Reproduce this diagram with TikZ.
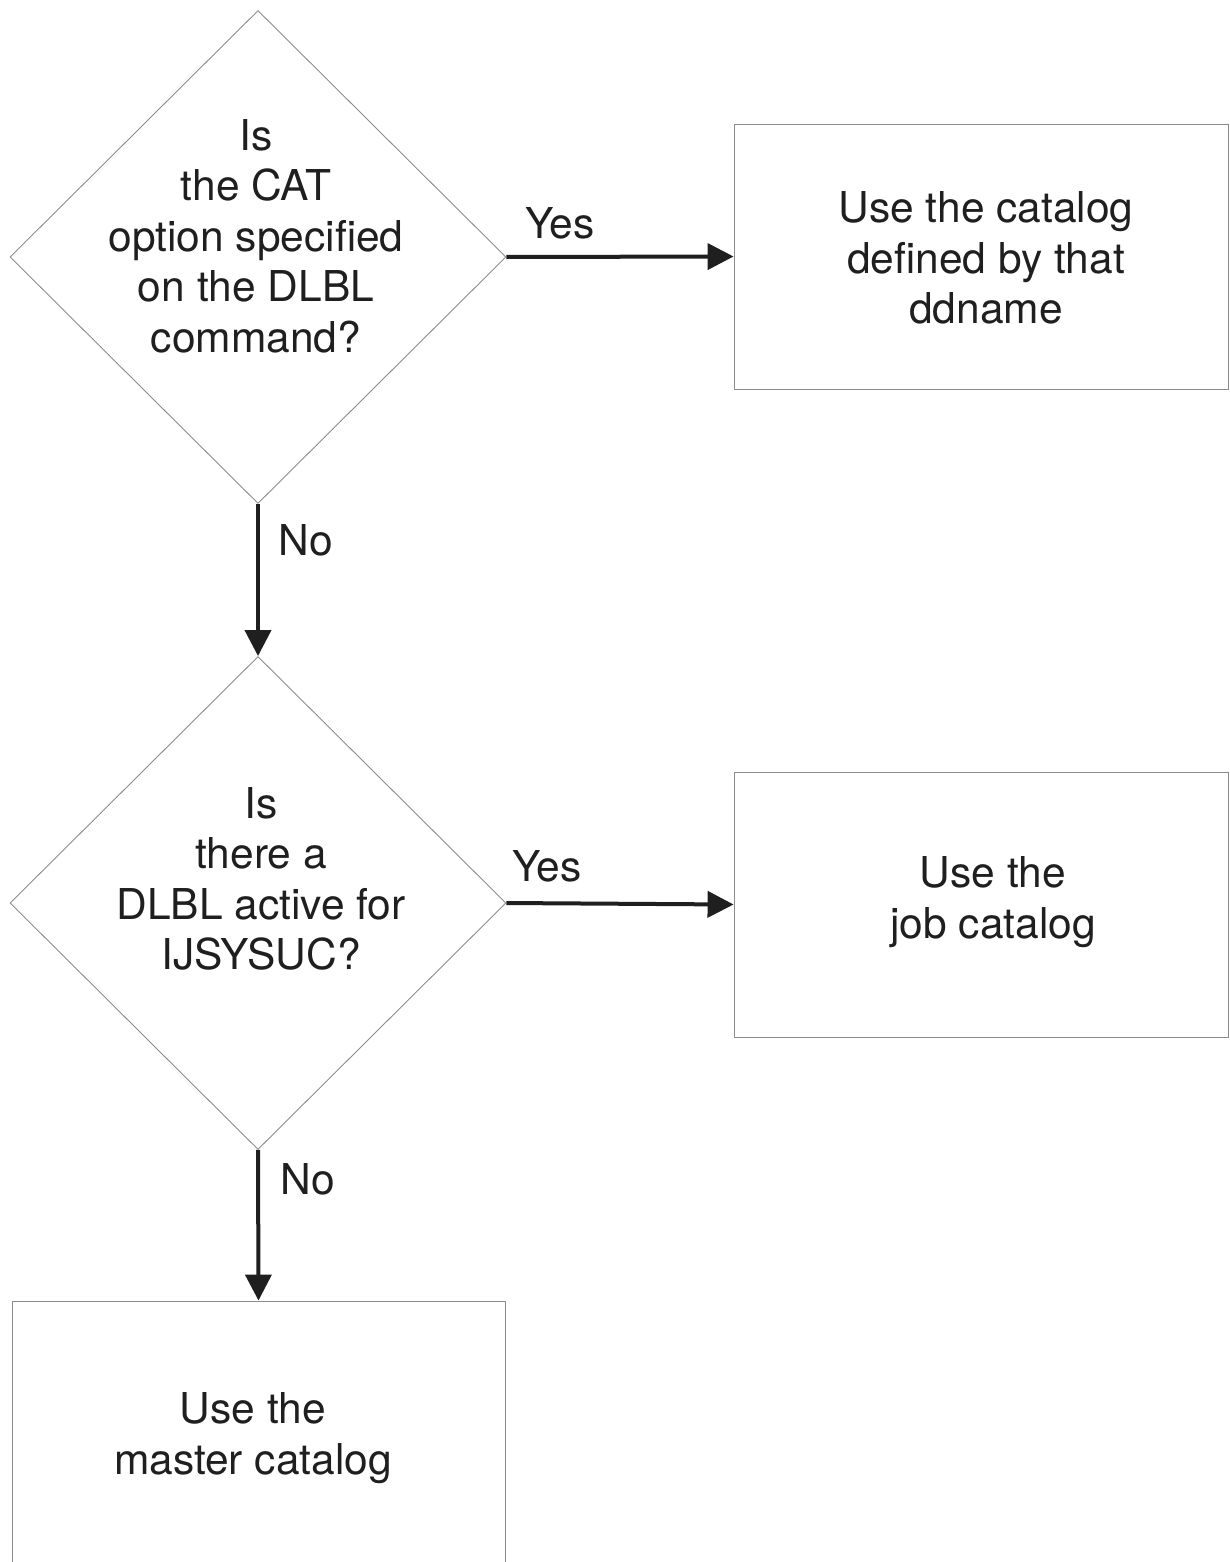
\documentclass[tikz,border=0pt]{standalone}
\usepackage{fontspec}
\setmainfont{TeX Gyre Heros}
\usetikzlibrary{shapes.geometric,arrows.meta}
\begin{document}
\begin{tikzpicture}[x=1pt,y=-1pt,
  dec/.style={draw=black!45, line width=0.9pt, shape=diamond, aspect=1, inner sep=0pt, minimum width=496pt, minimum height=493pt},
  proc/.style={draw=black!45, line width=0.9pt, rectangle, inner sep=0pt, minimum width=494pt, minimum height=265pt},
  txt/.style={align=center, font=\fontsize{42.5}{50.5}\selectfont, text=black!88, inner sep=0pt},
  arr/.style={line width=4pt, draw=black!88, -{Triangle[length=26pt,width=26pt]}},
]
\clip (0,0) rectangle (1229,1562);
\node[dec] (d1) at (258,257) {};
\node[proc] (b1) at (981,256.5) {};
\node[dec] (d2) at (258,903) {};
\node[proc] (b2) at (981,904.5) {};
\node[proc, minimum width=493pt, minimum height=300pt] (b3) at (258.5,1451) {};
\node[txt] (t1) at (256,236) {Is\\the CAT\\option specified\\on the DLBL\\command?};
\node[txt] (t2) at (261,879) {Is\\there a\\DLBL active for\\IJSYSUC?};
\node[txt] (t3) at (986,258) {Use the catalog\\defined by that\\ddname};
\node[txt] (t4) at (993,902) {Use the\\job catalog};
\node[txt] (t5) at (253,1438) {Use the\\master catalog};
\draw[arr] (d1.east) -- (b1.west);
\draw[arr] (d1.south) -- (d2.north);
\draw[arr] (d2.east) -- (b2.west);
\draw[arr] (d2.south) -- (b3.north);
\node[txt] (y1) at (560,223) {Yes};
\node[txt] (n1) at (306,540) {No};
\node[txt] (y2) at (547,866) {Yes};
\node[txt] (n2) at (308,1179) {No};
\end{tikzpicture}
\end{document}
